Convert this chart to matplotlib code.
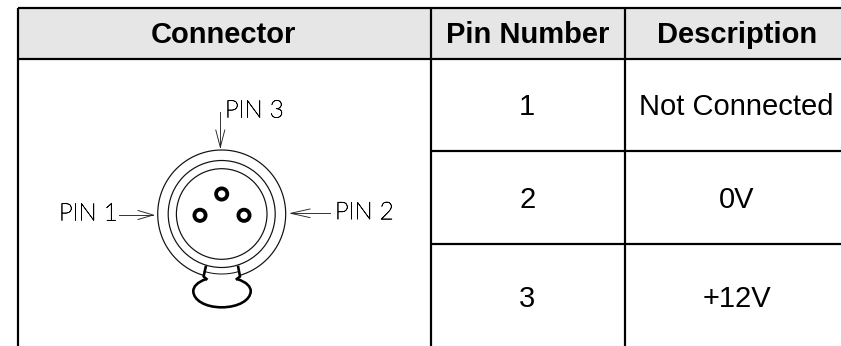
import numpy as np
import matplotlib
matplotlib.use("Agg")
import matplotlib.pyplot as plt
import matplotlib.patheffects as pe
from matplotlib.patches import Circle, Rectangle, PathPatch
from matplotlib.path import Path

headers = ["Connector", "Pin Number", "Description"]
pin_numbers = ["1", "2", "3"]
descriptions = ["Not Connected", "0V", "+12V"]
pin_labels = ["PIN 1", "PIN 2", "PIN 3"]

col_x = [18, 431, 625, 841]
row_y = [8, 59, 151, 244, 346]

fig = plt.figure(figsize=(8.41, 3.46), dpi=100)
ax = fig.add_axes([0, 0, 1, 1])
ax.set_xlim(0, 841)
ax.set_ylim(346, 0)
ax.axis("off")
LW = 0.72

ax.add_patch(Rectangle((col_x[0], row_y[0]), col_x[3]-col_x[0], row_y[1]-row_y[0], fc="#e6e6e6", ec="none"))
rule = dict(color="black", lw=2.2*LW, solid_capstyle="butt")
for x in col_x[:3]:
    ax.plot([x, x], [row_y[0], row_y[4]], **rule)
ax.plot([col_x[0], col_x[3]], [row_y[0], row_y[0]], **rule)
ax.plot([col_x[0], col_x[3]], [row_y[1], row_y[1]], **rule)
for y in row_y[2:4]:
    ax.plot([col_x[1], col_x[3]], [y, y], **rule)

font = "Liberation Sans"
hx = [223.5, 527.5, 736.7]
for x, h in zip(hx, headers):
    ax.text(x, 32.3, h, ha="center", va="center_baseline", family=font, weight="bold", fontsize=21)
ry = [104.3, 197.3, 296]
for y, p, d in zip(ry, pin_numbers, descriptions):
    ax.text(527.3, y, p, ha="center", va="center_baseline", family=font, fontsize=21)
    ax.text(736.5, y, d, ha="center", va="center_baseline", family=font, fontsize=21)

# connector drawing
cx, cy = 221.7, 214
for r in (53.5, 45.3):
    ax.add_patch(Circle((cx, cy), r, fc="none", ec="#111111", lw=1.2*LW))
gap = 17
a = np.radians(np.linspace(90+gap, 90+360-gap, 300))
ax.plot(cx+64*np.cos(a), cy+64*np.sin(a), color="#111111", lw=1.2*LW)
a2 = np.radians(np.linspace(90-17, 90+17, 40))
ax.plot(cx+60*np.cos(a2), cy+60*np.sin(a2), color="#111111", lw=1.0*LW)
for px, py in [(221.7, 194), (200, 215.3), (244, 215.3)]:
    ax.add_patch(Circle((px, py), 5.6, fc="white", ec="black", lw=3.8*LW))

# tab stems and loop
ax.plot([205.7, 203.6, 206.5], [267, 276.5, 279], color="black", lw=2.6*LW)
ax.plot([238.2, 240, 236.8], [267, 276.5, 279], color="black", lw=2.6*LW)
V = [(206.5, 279),
     (197, 282), (193.3, 287), (193.3, 291),
     (193.3, 300), (205, 307.3), (221.7, 307.3),
     (238.4, 307.3), (250.7, 300), (250.7, 291),
     (250.7, 287), (247, 282), (236.8, 279)]
C = [Path.MOVETO] + [Path.CURVE4] * 12
ax.add_patch(PathPatch(Path(V, C), fc="none", ec="black", lw=2.6*LW))

# labels and arrows
lf = dict(family="Lato", weight="light", fontsize=17.5, color="black", va="center_baseline",
          path_effects=[pe.withStroke(linewidth=0.45, foreground="black")])
ax.text(59, 212, pin_labels[0], ha="left", **lf)
ax.text(335, 210.7, pin_labels[1], ha="left", **lf)
ax.text(225, 109, pin_labels[2], ha="left", **lf)
ak = dict(color="#222222", lw=0.9*LW)
ax.plot([119, 153.3], [215, 215], **ak)
ax.plot([138, 153.3, 138], [210.5, 215, 219.5], **ak)
ax.plot([330, 290.7], [213.3, 213.3], **ak)
ax.plot([310, 290.7, 310], [209, 213.3, 217.6], **ak)
ax.plot([220.3, 220.3], [111.7, 147.3], **ak)
ax.plot([215.8, 220.3, 224.8], [130, 147.3, 130], **ak)

fig.savefig("out.png", dpi=100)
